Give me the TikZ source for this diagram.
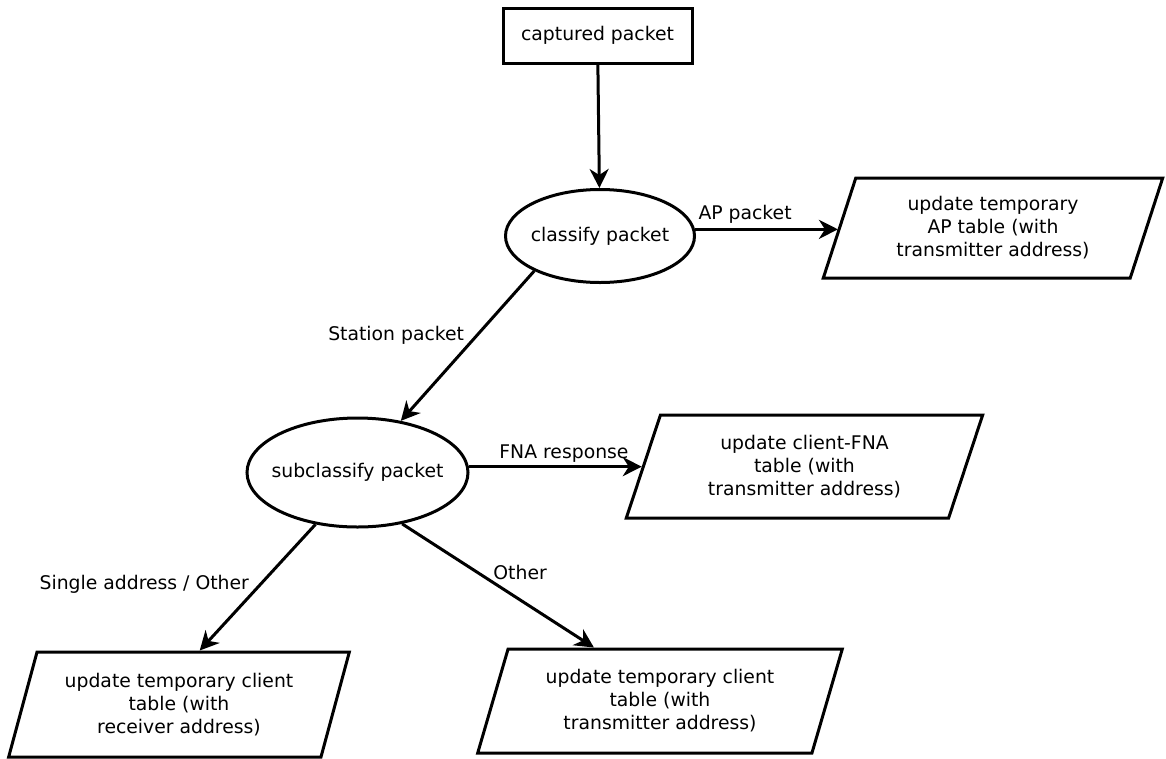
\documentclass[tikz,border=0pt]{standalone}
\usepackage{fontspec}
\setmainfont{DejaVu Sans}
\usetikzlibrary{arrows.meta,shapes.geometric}
\begin{document}
\begin{tikzpicture}[x=1pt,y=-1pt,
  every node/.style={font=\fontsize{18.8}{23}\selectfont},
  line width=3pt,
  flow/.style={draw, -{Stealth[length=19pt,width=19pt,inset=6pt]}},
  procbox/.style={draw, rectangle, minimum width=189pt, minimum height=55pt, inner sep=0pt},
  decision/.style={draw, ellipse, inner sep=0pt},
  tablebox/.style={draw, trapezium, trapezium left angle=70, trapezium right angle=110,
    trapezium stretches=true, align=center, inner sep=0pt},
  edgelabel/.style={inner sep=0pt}
]
\useasboundingbox (0,0) rectangle (1166,758);

% process steps (ellipse size fixed by its minimum size, not by the text)
\node[procbox] (cap) at (597.5,35.5) {captured packet};
\node[decision, minimum width=189pt, minimum height=93pt] (cls) at (600,236)
  {\makebox[0pt]{classify packet}};
\node[decision, minimum width=221pt, minimum height=109pt] (sub) at (357.5,472.5)
  {\makebox[0pt]{subclassify packet}};

% table updates
\node[tablebox, minimum width=340pt, minimum height=100pt] (ap) at (993,228)
  {update temporary\\AP table (with\\transmitter address)};
\node[tablebox, minimum width=357pt, minimum height=103pt] (fna) at (804.5,466.5)
  {update client-FNA\\table (with\\transmitter address)};
\node[tablebox, minimum width=342pt, minimum height=105pt] (rcv) at (179,704.5)
  {update temporary client\\table (with\\receiver address)};
\node[tablebox, minimum width=366pt, minimum height=104pt] (trn) at (660,701)
  {update temporary client\\table (with\\transmitter address)};

% connectors
\draw[flow] (cap) -- (cls);
\draw[flow] (cls.4.5) -- node[edgelabel, pos=0.35, anchor=south, yshift=4pt] {AP packet} (cls.4.5 -| ap.west);
\draw[flow] (cls.208) -- node[edgelabel, pos=0.41, anchor=east, xshift=-14pt, yshift=-3pt] {Station packet} (sub.50);
\draw[flow] (sub.3) -- node[edgelabel, pos=0.55, anchor=south, yshift=3pt] {FNA response} (sub.3 -| fna.west);
\draw[flow] (sub.231) -- node[edgelabel, pos=0.45, anchor=east, xshift=-13pt, yshift=-3pt] {Single address / Other} (rcv.69);
\draw[flow] (sub.311) -- node[edgelabel, pos=0.39, anchor=west, xshift=15pt] {Other} (trn.141);
\end{tikzpicture}
\end{document}
